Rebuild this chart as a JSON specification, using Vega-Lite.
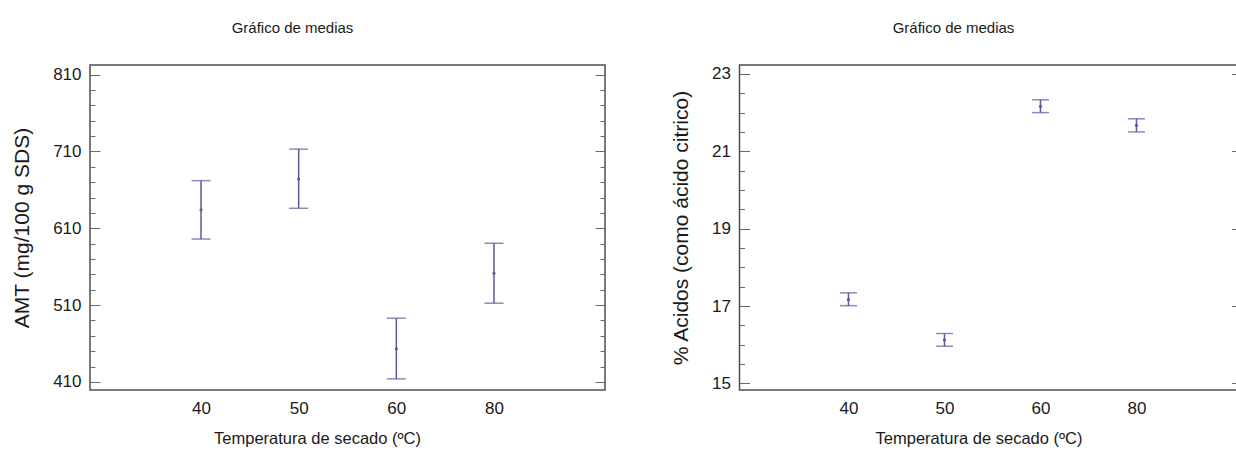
{
  "$schema": "https://vega.github.io/schema/vega-lite/v6.json",
  "background": "white",
  "padding": {"left": 10, "top": 20, "right": -6, "bottom": 0},
  "config": {
    "view": {"stroke": "#4d4d4d", "strokeWidth": 1.5},
    "font": "Liberation Sans",
    "axis": {"labelFont": "Liberation Sans", "titleFont": "Liberation Sans", "labelColor": "#1a1a1a", "titleColor": "#1a1a1a", "titleFontWeight": "normal", "grid": false, "domain": false, "tickColor": "#6a6a6a", "tickWidth": 1},
    "title": {"font": "Liberation Sans", "fontSize": 15, "fontWeight": "normal", "color": "#1a1a1a", "anchor": "middle", "frame": "group"},
    "concat": {"spacing": 62.5}
  },
  "datasets": {
    "amt": [
      {"temp": "40", "mean": 634, "lo": 596, "hi": 672},
      {"temp": "50", "mean": 674, "lo": 636, "hi": 713},
      {"temp": "60", "mean": 453, "lo": 414, "hi": 493},
      {"temp": "80", "mean": 551.5, "lo": 512.5, "hi": 590.5}
    ],
    "acidos": [
      {"temp": "40", "mean": 17.17, "lo": 17.01, "hi": 17.34},
      {"temp": "50", "mean": 16.12, "lo": 15.96, "hi": 16.29},
      {"temp": "60", "mean": 22.16, "lo": 22.0, "hi": 22.33},
      {"temp": "80", "mean": 21.67, "lo": 21.5, "hi": 21.84}
    ]
  },
  "hconcat": [
    {
      "width": 515,
      "height": 325,
      "title": {"text": "Gráfico de medias", "offset": 29, "dx": -55},
      "data": {"name": "amt"},
      "encoding": {
        "x": {"field": "temp", "type": "ordinal", "sort": null,
          "scale": {"type": "point", "domain": ["a", "40", "50", "60", "80", "b"], "padding": 0.137, "align": 0.5},
          "axis": {"title": "Temperatura de secado (ºC)", "values": ["40", "50", "60", "80"], "labelAngle": 0, "ticks": false, "labelPadding": 10, "labelFontSize": 17, "titleFontSize": 16.5, "titlePadding": 14, "titleX": 227}}
      },
      "layer": [
        {
          "mark": {"type": "rule", "color": "#5a5a99", "strokeWidth": 1.5},
          "encoding": {
            "y": {"field": "lo", "type": "quantitative", "scale": {"domain": [399.5, 822.5], "nice": false, "zero": false},
              "axis": {"orient": "left", "title": "AMT (mg/100 g SDS)", "values": [410, 510, 610, 710, 810], "tickSize": -10, "labelPadding": 19, "labelFontSize": 17, "titleFontSize": 21, "titleX": -58}},
            "y2": {"field": "hi"}
          }
        },
        {
          "mark": {"type": "tick", "color": "#5a5a99", "size": 19, "thickness": 1.5},
          "encoding": {
            "y": {"field": "lo", "type": "quantitative", "scale": {"domain": [399.5, 822.5], "nice": false, "zero": false},
              "axis": {"orient": "left", "title": null, "labels": false, "values": [430, 450, 470, 490, 530, 550, 570, 590, 630, 650, 670, 690, 730, 750, 770, 790], "tickSize": -5}}
          }
        },
        {
          "mark": {"type": "tick", "color": "#5a5a99", "size": 19, "thickness": 1.5},
          "encoding": {
            "y": {"field": "hi", "type": "quantitative", "scale": {"domain": [399.5, 822.5], "nice": false, "zero": false},
              "axis": {"orient": "right", "title": null, "labels": false, "values": [410, 510, 610, 710, 810], "tickSize": -10}}
          }
        },
        {
          "mark": {"type": "point", "color": "#5a5a99", "filled": true, "size": 10, "opacity": 1},
          "encoding": {
            "y": {"field": "mean", "type": "quantitative", "scale": {"domain": [399.5, 822.5], "nice": false, "zero": false},
              "axis": {"orient": "right", "title": null, "labels": false, "values": [430, 450, 470, 490, 530, 550, 570, 590, 630, 650, 670, 690, 730, 750, 770, 790], "tickSize": -5}}
          }
        }
      ],
      "resolve": {"axis": {"y": "independent"}}
    },
    {
      "width": 502,
      "height": 325,
      "title": {"text": "Gráfico de medias", "offset": 29, "dx": -37},
      "data": {"name": "acidos"},
      "encoding": {
        "x": {"field": "temp", "type": "ordinal", "sort": null,
          "scale": {"type": "point", "domain": ["a", "40", "50", "60", "80", "b"], "padding": 0.1146, "align": 0.59},
          "axis": {"title": "Temperatura de secado (ºC)", "values": ["40", "50", "60", "80"], "labelAngle": 0, "ticks": false, "labelPadding": 10, "labelFontSize": 17, "titleFontSize": 16.5, "titlePadding": 14, "titleX": 239}}
      },
      "layer": [
        {
          "mark": {"type": "rule", "color": "#5a5a99", "strokeWidth": 1.5},
          "encoding": {
            "y": {"field": "lo", "type": "quantitative", "scale": {"domain": [14.83, 23.23], "nice": false, "zero": false},
              "axis": {"orient": "left", "title": "% Acidos (como ácido citrico)", "values": [15, 17, 19, 21, 23], "tickSize": -10, "labelPadding": 19, "labelFontSize": 17, "titleFontSize": 21, "titleX": -48}},
            "y2": {"field": "hi"}
          }
        },
        {
          "mark": {"type": "tick", "color": "#5a5a99", "size": 17, "thickness": 1.5},
          "encoding": {
            "y": {"field": "lo", "type": "quantitative", "scale": {"domain": [14.83, 23.23], "nice": false, "zero": false},
              "axis": {"orient": "left", "title": null, "labels": false, "values": [15.5, 16, 16.5, 17.5, 18, 18.5, 19.5, 20, 20.5, 21.5, 22, 22.5], "tickSize": -5}}
          }
        },
        {
          "mark": {"type": "tick", "color": "#5a5a99", "size": 17, "thickness": 1.5},
          "encoding": {
            "y": {"field": "hi", "type": "quantitative", "scale": {"domain": [14.83, 23.23], "nice": false, "zero": false},
              "axis": {"orient": "right", "title": null, "labels": false, "values": [15, 17, 19, 21, 23], "tickSize": -10}}
          }
        },
        {
          "mark": {"type": "point", "color": "#5a5a99", "filled": true, "size": 10, "opacity": 1},
          "encoding": {
            "y": {"field": "mean", "type": "quantitative", "scale": {"domain": [14.83, 23.23], "nice": false, "zero": false},
              "axis": {"orient": "right", "title": null, "labels": false, "values": [15.5, 16, 16.5, 17.5, 18, 18.5, 19.5, 20, 20.5, 21.5, 22, 22.5], "tickSize": -5}}
          }
        }
      ],
      "resolve": {"axis": {"y": "independent"}}
    }
  ]
}
